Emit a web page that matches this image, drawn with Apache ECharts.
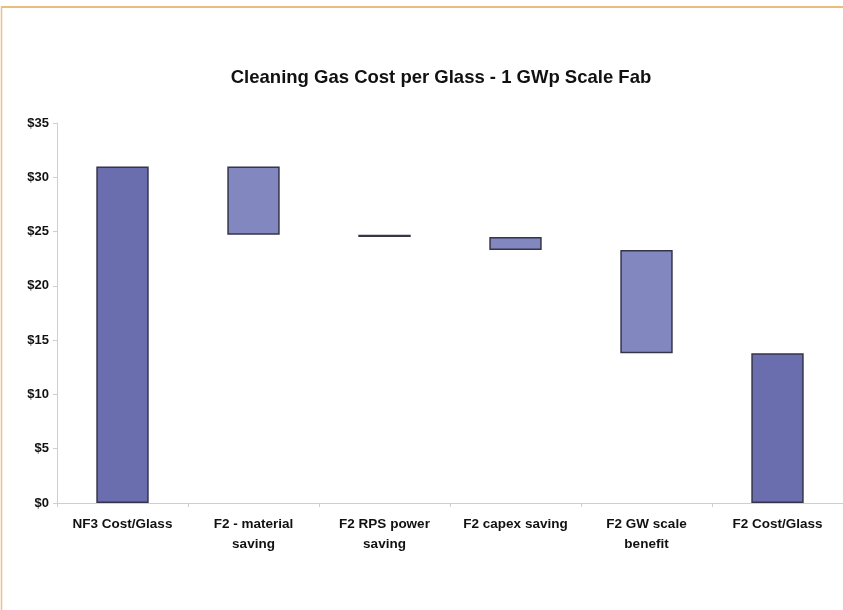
<!DOCTYPE html>
<html>
<head>
<meta charset="utf-8">
<script src="https://cdn.jsdelivr.net/npm/echarts@6/dist/echarts.min.js"></script>
<style>
  html, body { margin: 0; padding: 0; background: #ffffff; }
  #chart { width: 843px; height: 610px; }
</style>
</head>
<body>
<div id="chart"></div>
<script>
// Waterfall of cleaning gas cost per glass ($)
const categories = [
  'NF3 Cost/Glass',
  'F2 - material\nsaving',
  'F2 RPS power\nsaving',
  'F2 capex saving',
  'F2 GW scale\nbenefit',
  'F2 Cost/Glass'
];
// top and bottom of each floating bar
const barTop    = [31.0, 31.0, 24.7, 24.5, 23.3, 13.8];
const barBottom = [0,    24.7, 24.5, 23.3, 13.8, 0];
// totals are solid, steps are the lighter shade
const isTotal   = [true, false, false, false, false, true];
const yTicks    = [0, 5, 10, 15, 20, 25, 30, 35];

const totalColor = '#6a6eae';
const stepColor  = '#8387c0';
const font = 'Liberation Sans, Arial, sans-serif';

const chart = echarts.init(document.getElementById('chart'), null, { renderer: 'canvas' });

const visible = barTop.map((t, i) => ({
  value: +(t - barBottom[i]).toFixed(3),
  itemStyle: { color: isTotal[i] ? totalColor : stepColor }
}));

chart.setOption({
  backgroundColor: '#ffffff',
  animation: false,
  title: {
    text: 'Cleaning Gas Cost per Glass - 1 GWp Scale Fab',
    left: 436,
    top: 63,
    textAlign: 'center',
    textStyle: {
      fontFamily: font,
      fontWeight: 'bold',
      fontSize: 18.5,
      color: '#111'
    }
  },
  graphic: [
    { type: 'line', shape: { x1: 1, y1: 7, x2: 843, y2: 7 }, style: { stroke: '#e6a650', lineWidth: 1.5 } },
    { type: 'line', shape: { x1: 1.5, y1: 7, x2: 1.5, y2: 610 }, style: { stroke: '#edc086', lineWidth: 1.5 } }
  ],
  grid: { left: 57, right: -3, top: 123, bottom: 107, containLabel: false },
  xAxis: {
    type: 'category',
    data: categories,
    axisLine: { show: true, lineStyle: { color: '#cfcfcf', width: 1 } },
    axisTick: { show: true, alignWithLabel: false, length: 4, lineStyle: { color: '#cfcfcf' } },
    axisLabel: {
      interval: 0,
      margin: 11,
      lineHeight: 20,
      fontFamily: font,
      fontWeight: 'bold',
      fontSize: 13.5,
      color: '#111'
    }
  },
  yAxis: {
    type: 'value',
    min: yTicks[0],
    max: yTicks[yTicks.length - 1],
    interval: 5,
    splitLine: { show: false },
    axisLine: { show: true, lineStyle: { color: '#cfcfcf', width: 1 } },
    axisTick: { show: true, length: 4, lineStyle: { color: '#cfcfcf' } },
    axisLabel: {
      margin: 8,
      formatter: v => '$' + v,
      fontFamily: font,
      fontWeight: 'bold',
      fontSize: 13,
      color: '#111'
    }
  },
  series: [
    {
      name: 'base',
      type: 'bar',
      stack: 'w',
      data: barBottom,
      itemStyle: { color: 'transparent', borderColor: 'transparent' },
      silent: true,
      barCategoryGap: '60%'
    },
    {
      name: 'cost',
      type: 'bar',
      stack: 'w',
      data: visible,
      barCategoryGap: '60%',
      itemStyle: { borderColor: '#35354a', borderWidth: 1.5 }
    }
  ]
});
</script>
</body>
</html>
